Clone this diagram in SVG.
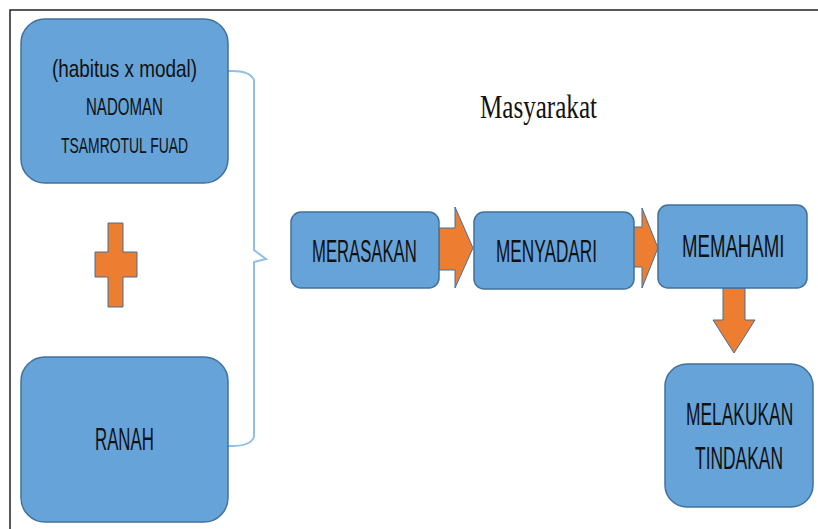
<svg xmlns="http://www.w3.org/2000/svg" width="818" height="529" viewBox="0 0 818 529">
<style>
.box{fill:#65a3d9;stroke:#41719c;stroke-width:1.5}
.arr{fill:#ed7d31;stroke:#41719c;stroke-width:1}
.t{font-family:"Liberation Sans",Arial,sans-serif;fill:#111;text-anchor:start}
.b{fill:none;stroke:#8fbfe8;stroke-width:2}
</style>
<rect x="0" y="0" width="818" height="529" fill="#fff"/>
<path d="M10 529 V10 H818" fill="none" stroke="#222" stroke-width="1.5"/>
<g id="connectors">
<path class="b" d="M228 71 Q250 70 254 80 V250 L266 259 L254 262 V437 Q250 447 228 446"/>
<path class="arr" d="M439 228 H455 V207 L473 248 L455 288 V270 H439 Z"/>
<path class="arr" d="M623 227 H642 V208 L658 248 L642 288 V267 H623 Z"/>
<path class="arr" d="M723 288 H745 V320 H755 L734 353 L713 320 H723 Z"/>
</g>
<g id="n-habitus">
<rect class="box" x="21" y="19" width="207" height="164" rx="24"/>
<text class="t" transform="translate(52 77) scale(0.62 1)" font-size="24" textLength="234" lengthAdjust="spacingAndGlyphs">(habitus x modal)</text>
<text class="t" transform="translate(86 115) scale(0.62 1)" font-size="23" textLength="124" lengthAdjust="spacingAndGlyphs">NADOMAN</text>
<text class="t" transform="translate(61 153) scale(0.62 1)" font-size="22" textLength="205" lengthAdjust="spacingAndGlyphs">TSAMROTUL FUAD</text>
</g>
<g id="n-plus">
<path class="arr" d="M108 223 H123 V252 H137 V277 H123 V307 H108 V277 H95 V252 H108 Z"/>
</g>
<g id="n-ranah">
<rect class="box" x="21" y="357" width="207" height="165" rx="24"/>
<text class="t" transform="translate(95 450) scale(0.62 1)" font-size="31" textLength="95" lengthAdjust="spacingAndGlyphs">RANAH</text>
</g>
<g id="n-masyarakat">
<text transform="translate(480 118) scale(0.75 1)" font-family="Liberation Serif,'Times New Roman',serif" font-size="33" fill="#111" textLength="156" lengthAdjust="spacingAndGlyphs">Masyarakat</text>
</g>
<g id="n-merasakan">
<rect class="box" x="291" y="212" width="148" height="76" rx="10"/>
<text class="t" transform="translate(312 262) scale(0.62 1)" font-size="31" textLength="169" lengthAdjust="spacingAndGlyphs">MERASAKAN</text>
</g>
<g id="n-menyadari">
<rect class="box" x="474" y="212" width="160" height="77" rx="10"/>
<text class="t" transform="translate(496 262) scale(0.62 1)" font-size="31" textLength="163" lengthAdjust="spacingAndGlyphs">MENYADARI</text>
</g>
<g id="n-memahami">
<rect class="box" x="658" y="205" width="149" height="83" rx="10"/>
<text class="t" transform="translate(682 257) scale(0.62 1)" font-size="31" textLength="165" lengthAdjust="spacingAndGlyphs">MEMAHAMI</text>
</g>
<g id="n-melakukan">
<rect class="box" x="665" y="364" width="148" height="143" rx="22"/>
<text class="t" transform="translate(686 425) scale(0.62 1)" font-size="31" textLength="173" lengthAdjust="spacingAndGlyphs">MELAKUKAN</text>
<text class="t" transform="translate(695 469) scale(0.62 1)" font-size="31" textLength="142" lengthAdjust="spacingAndGlyphs">TINDAKAN</text>
</g>
</svg>
